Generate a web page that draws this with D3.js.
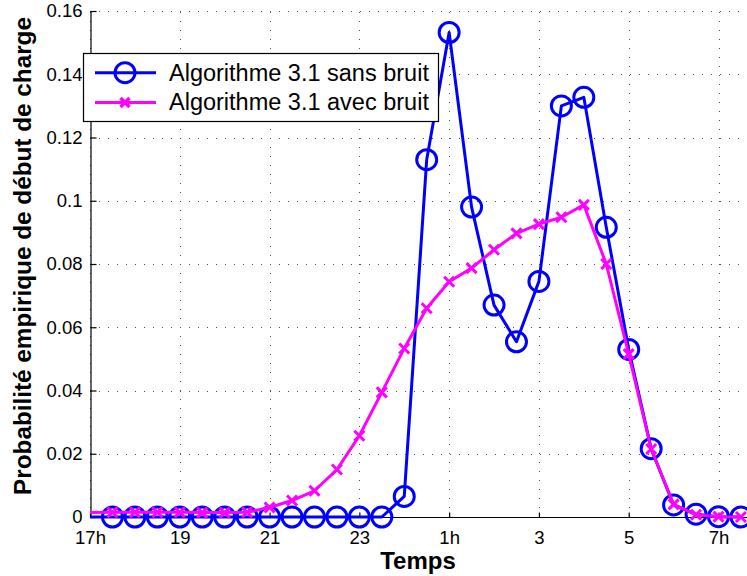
<!DOCTYPE html>
<html><head><meta charset="utf-8">
<script src="https://cdn.jsdelivr.net/npm/d3@7"></script>
<style>
html,body{margin:0;padding:0;background:#fff;}
svg{display:block;font-family:"Liberation Sans",Arial,Helvetica,sans-serif;}
</style></head>
<body>
<script>
// Time in hours after 17h
const times = [-0.5,0.5,1,1.5,2,2.5,3,3.5,4,4.5,5,5.5,6,6.5,7,7.5,8,8.5,9,9.5,10,10.5,11,11.5,12,12.5,13,13.5,14,14.5];
const sansBruit = [0,0,0,0,0,0,0,0,0,0,0,0,0,0,0.0065,0.113,0.1532,0.098,0.067,0.0554,0.0745,0.130,0.1327,0.0916,0.053,0.0216,0.0038,0.0009,0.0001,0];
const avecBruit = [0.0013,0.0015,0.0015,0.0015,0.0015,0.0014,0.0014,0.0015,0.003,0.0052,0.0083,0.015,0.0257,0.0394,0.0533,0.066,0.0744,0.0787,0.0845,0.0897,0.0926,0.0948,0.0987,0.080,0.0515,0.0215,0.004,0.0007,0.0001,0];
const xTickValues = [0,2,4,6,8,10,12,14];
const xTickLabels = ["17h","19","21","23","1h","3","5","7h"];
const yTickValues = [0,0.02,0.04,0.06,0.08,0.1,0.12,0.14,0.16];
const yTickLabels = ["0","0.02","0.04","0.06","0.08","0.1","0.12","0.14","0.16"];
const seriesNames = ["Algorithme 3.1 sans bruit","Algorithme 3.1 avec bruit"];
const xLabel = "Temps";
const yLabel = "Probabilité empirique de début de charge";

(function(){
const W = 747, H = 576;
const pLeft = 90, pTop = 11, pBottom = 517, pRight = 760;
const x = d3.scaleLinear().domain([0,14]).range([pLeft, 718.5]);
const y = d3.scaleLinear().domain([0,0.16]).range([pBottom, pTop]);

const svg = d3.select("body").append("svg").attr("width",W).attr("height",H);

svg.append("defs").append("clipPath").attr("id","clip")
  .append("rect").attr("x",pLeft).attr("y",0).attr("width",pRight-pLeft).attr("height",H);

// grid
const grid = svg.append("g").attr("stroke","#555").attr("stroke-width",1).attr("stroke-dasharray","1,8");
grid.selectAll(".vg").data(xTickValues).join("line")
  .attr("x1",d=>Math.round(x(d))+0.5).attr("x2",d=>Math.round(x(d))+0.5)
  .attr("y1",pBottom).attr("y2",pTop);
grid.selectAll(".hg").data(yTickValues).join("line")
  .attr("y1",d=>Math.round(y(d))+0.5).attr("y2",d=>Math.round(y(d))+0.5)
  .attr("x1",pLeft).attr("x2",W);

// axes
const xAxis = d3.axisBottom(x).tickValues(xTickValues).tickFormat((d,i)=>xTickLabels[i]).tickSizeInner(-5).tickSizeOuter(0).tickPadding(13);
const gx = svg.append("g").attr("transform",`translate(0,${pBottom+0.5})`).call(xAxis);
gx.select(".domain").attr("d",`M${pLeft},0H${W+5}`);
const yAxis = d3.axisLeft(y).tickValues(yTickValues).tickFormat((d,i)=>yTickLabels[i]).tickSizeInner(-6).tickSizeOuter(0).tickPadding(8);
const gy = svg.append("g").attr("transform",`translate(${pLeft+0.5},0)`).call(yAxis);
[gx,gy].forEach(g=>{
  g.selectAll("text").attr("font-size","18.5px").attr("fill","#000").attr("font-family","'Liberation Sans',Arial,sans-serif");
  g.selectAll("line,path").attr("stroke","#000").attr("stroke-width",1.2);
});

// labels
svg.append("text").attr("x",418).attr("y",569).attr("text-anchor","middle")
  .attr("font-size","24px").attr("font-weight","bold").text(xLabel);
svg.append("text").attr("transform","translate(31,256) rotate(-90)").attr("text-anchor","middle")
  .attr("font-size","24.3px").attr("font-weight","bold").text(yLabel);

// series
const blueData = times.map((t,i)=>({t, v:sansBruit[i]}));
const pinkData = times.map((t,i)=>({t, v:avecBruit[i]}));
const line = d3.line().x(d=>x(d.t)).y(d=>y(d.v));
const plot = svg.append("g");

function crossPath(s){ return `M${-s},${-s}L${s},${s}M${-s},${s}L${s},${-s}`; }

plot.append("path").datum(blueData).attr("clip-path","url(#clip)")
  .attr("d",line).attr("fill","none").attr("stroke","#0000ff").attr("stroke-width",3).attr("stroke-linejoin","round");
plot.selectAll(".bm").data(blueData.filter(d=>d.t>0)).join("circle")
  .attr("cx",d=>x(d.t)).attr("cy",d=>y(d.v)).attr("r",10)
  .attr("fill","none").attr("stroke","#0000ff").attr("stroke-width",3);

plot.append("path").datum(pinkData).attr("clip-path","url(#clip)")
  .attr("d",line).attr("fill","none").attr("stroke","#ff00ff").attr("stroke-width",3).attr("stroke-linejoin","round");
plot.selectAll(".pm").data(pinkData.filter(d=>d.t>0)).join("path")
  .attr("transform",d=>`translate(${x(d.t)},${y(d.v)})`).attr("d",crossPath(5))
  .attr("fill","none").attr("stroke","#ff00ff").attr("stroke-width",3);

// legend
const lg = svg.append("g");
lg.append("rect").attr("x",83.5).attr("y",53.5).attr("width",355).attr("height",68)
  .attr("fill","#fff").attr("stroke","#000").attr("stroke-width",1.2);
const rows = [{name:seriesNames[0], color:"#0000ff", mk:"circle"},{name:seriesNames[1], color:"#ff00ff", mk:"cross"}];
rows.forEach((r,i)=>{
  const cy = 72.7 + i*29.7;
  lg.append("line").attr("x1",95).attr("x2",156).attr("y1",cy).attr("y2",cy).attr("stroke",r.color).attr("stroke-width",3);
  if(r.mk==="circle") lg.append("circle").attr("cx",125).attr("cy",cy).attr("r",10).attr("fill","none").attr("stroke",r.color).attr("stroke-width",3);
  else lg.append("path").attr("transform",`translate(125,${cy})`).attr("d",crossPath(4.5)).attr("fill","none").attr("stroke",r.color).attr("stroke-width",3.5);
  lg.append("text").attr("x",169).attr("y",cy+8).attr("font-size","23.5px").text(r.name);
});
})();
</script>
</body></html>
